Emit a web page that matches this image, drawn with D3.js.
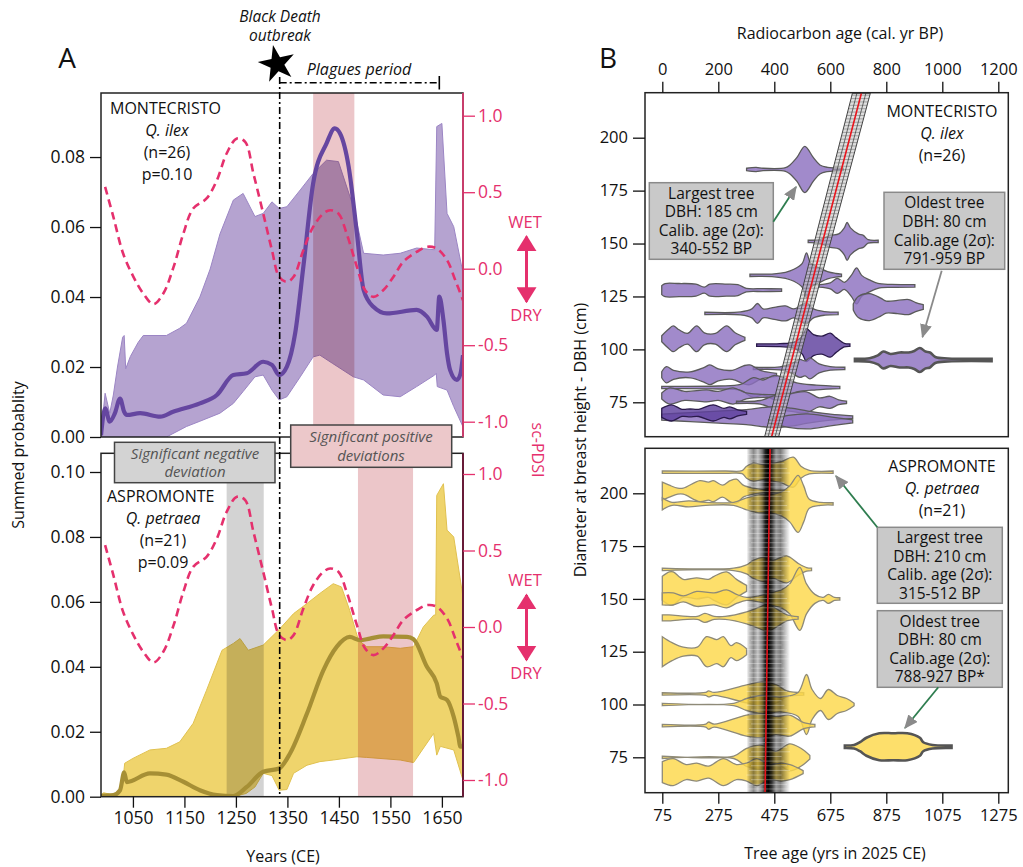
<!DOCTYPE html>
<html><head><meta charset="utf-8">
<script src="https://cdn.jsdelivr.net/npm/d3@7"></script>
<style>
body{margin:0;background:#fff;}
svg{font-family:"Open Sans",sans-serif;}
</style></head><body>
<svg id="fig" width="1023" height="867"></svg>
<script>
// ---- panel A data ----
const yearTicks = [1050,1150,1250,1350,1450,1550,1650];
const probTicksTop = [0,0.02,0.04,0.06,0.08];
const probTicksBottom = [0,0.02,0.04,0.06,0.08,0.10];
const pdsiTicks = [-1,-0.5,0,0.5,1];
const blackDeathYear = 1335;
const plaguesEndYear = 1645;
const montPositiveBand = [1400,1480];
const aspPositiveBand = [1487,1594];
const aspNegativeBand = [1232,1304];

const montUpper = [[988,0.001],[996,0.0125],[1005,0.0068],[1012,0.012],[1020,0.02],[1030,0.0285],[1033,0.029],[1036,0.0195],[1045,0.023],[1060,0.027],[1070,0.029],[1115,0.029],[1140,0.031],[1154,0.0325],[1180,0.040],[1200,0.048],[1219,0.058],[1245,0.0677],[1264,0.0696],[1287,0.063],[1303,0.0639],[1320,0.0672],[1334,0.0653],[1349,0.0658],[1375,0.0706],[1400,0.0753],[1426,0.0791],[1449,0.0787],[1478,0.0658],[1498,0.0525],[1536,0.052],[1569,0.0525],[1601,0.054],[1636,0.0535],[1640,0.0887],[1650,0.0896],[1660,0.0639],[1673,0.0601],[1691,0.0468]];
const montLower = [[988,0],[1115,0],[1154,0.003],[1180,0.0045],[1219,0.0068],[1245,0.0096],[1264,0.013],[1287,0.0172],[1303,0.0177],[1320,0.0134],[1334,0.0106],[1349,0.0115],[1375,0.0172],[1400,0.0229],[1413,0.0234],[1438,0.021],[1478,0.0172],[1498,0.0163],[1536,0.012],[1569,0.0115],[1601,0.0144],[1636,0.0177],[1639,0.0182],[1641,0.0144],[1660,0.0134],[1673,0.0087],[1691,0.0029]];
const montMean = [[988,0.0005],[996,0.0082],[1005,0.0044],[1015,0.0068],[1025,0.011],[1033,0.0072],[1038,0.0063],[1064,0.0068],[1103,0.0058],[1128,0.0072],[1180,0.0096],[1213,0.012],[1245,0.0177],[1271,0.0182],[1303,0.0215],[1320,0.0206],[1334,0.0177],[1349,0.0201],[1365,0.0296],[1381,0.0487],[1400,0.0725],[1426,0.0839],[1442,0.0882],[1452,0.0868],[1469,0.0772],[1485,0.0582],[1498,0.042],[1517,0.0372],[1543,0.0353],[1601,0.0363],[1621,0.0344],[1640,0.0306],[1645,0.0401],[1653,0.0334],[1660,0.0239],[1666,0.0191],[1679,0.0163],[1686,0.018],[1691,0.0234]];

const aspUpper = [[988,0.0005],[993,0.0012],[1005,0.0008],[1020,0.0005],[1030,0.004],[1034,0.0103],[1050,0.0118],[1083,0.0144],[1115,0.0149],[1141,0.0169],[1167,0.0226],[1193,0.0328],[1223,0.0451],[1245,0.0472],[1258,0.0487],[1274,0.0451],[1303,0.0467],[1334,0.0515],[1362,0.0564],[1388,0.0595],[1413,0.0626],[1439,0.0656],[1455,0.0646],[1471,0.0574],[1488,0.0482],[1504,0.0462],[1536,0.0462],[1569,0.0457],[1595,0.0462],[1614,0.0523],[1634,0.0559],[1638,0.056],[1640,0.0928],[1653,0.0964],[1660,0.0821],[1673,0.08],[1691,0.0615]];
const aspLower = [[988,0],[1245,0],[1270,0.001],[1287,0.003],[1303,0.0072],[1320,0.0065],[1334,0.002],[1349,0.0022],[1362,0.0072],[1388,0.0097],[1413,0.0108],[1439,0.0113],[1485,0.0123],[1504,0.0121],[1569,0.0113],[1595,0.0105],[1634,0.0195],[1640,0.0128],[1647,0.0155],[1673,0.0144],[1691,0.0051]];
const aspMean = [[988,0.0003],[1012,0.0005],[1025,0.002],[1033,0.0075],[1038,0.0045],[1083,0.0072],[1115,0.0068],[1148,0.0046],[1180,0.002],[1213,0.0005],[1245,0.0002],[1271,0.003],[1303,0.0077],[1334,0.0087],[1355,0.0133],[1388,0.0256],[1420,0.039],[1446,0.0462],[1471,0.0492],[1491,0.0482],[1510,0.0487],[1536,0.0494],[1582,0.0492],[1595,0.0485],[1621,0.040],[1640,0.0349],[1647,0.0308],[1660,0.0298],[1673,0.0246],[1682,0.0185],[1686,0.0154],[1691,0.0156]];

const pdsi = [[996,0.535],[1012,0.339],[1031,0.099],[1051,-0.053],[1070,-0.162],[1090,-0.232],[1109,-0.162],[1129,0.012],[1148,0.23],[1167,0.393],[1193,0.459],[1213,0.578],[1232,0.753],[1252,0.851],[1268,0.829],[1284,0.622],[1303,0.361],[1320,0.121],[1334,-0.053],[1349,-0.086],[1362,-0.053],[1381,0.121],[1400,0.273],[1420,0.361],[1433,0.382],[1449,0.361],[1465,0.23],[1485,0.012],[1501,-0.141],[1517,-0.184],[1536,-0.141],[1556,-0.053],[1575,0.045],[1601,0.11],[1621,0.143],[1640,0.132],[1660,0.056],[1676,-0.075],[1691,-0.206]];

// ---- panel B data ----
const rcTicks = [0,200,400,600,800,1000,1200];
const treeAgeTicks = [75,275,475,675,875,1075,1275];
const dbhTicks = [75,100,125,150,175,200];
// violins: dbh (cm), [age, relative density]
const montViolins = [
  {dbh:185, pts:[[301,0.04],[335,0.07],[360,0.04],[440,0.06],[456,0.15],[481,0.4],[509,0.77],[539,0.4],[563,0.15],[590,0.07],[620,0.05],[646,0.04]]},
  {dbh:151, pts:[[521,0.04],[560,0.06],[600,0.2],[630,0.25],[650,0.45],[660,0.63],[672,0.45],[700,0.25],[718,0.2],[735,0.06],[771,0.04]]},
  {dbh:135, pts:[[313,0.04],[400,0.05],[440,0.1],[470,0.2],[500,0.4],[515,0.75],[530,0.4],[560,0.25],[590,0.12],[620,0.06],[640,0.04]]},
  {dbh:130, pts:[[560,0.04],[600,0.1],[625,0.25],[650,0.12],[675,0.35],[694,0.6],[712,0.35],[740,0.2],[770,0.08],[820,0.05],[902,0.04]]},
  {dbh:128, pts:[[-2,0.15],[10,0.22],[60,0.22],[120,0.2],[150,0.1],[170,0.2],[230,0.2],[270,0.18],[300,0.06],[360,0.05],[426,0.04]]},
  {dbh:120, pts:[[682,0.1],[700,0.35],[740,0.45],[780,0.3],[800,0.2],[840,0.22],[880,0.25],[905,0.15],[932,0.08]]},
  {dbh:117, pts:[[152,0.04],[280,0.05],[320,0.15],[340,0.33],[360,0.15],[400,0.2],[440,0.25],[470,0.15],[500,0.3],[515,0.35],[540,0.15],[580,0.06],[628,0.04]]},
  {dbh:105, pts:[[-2,0.1],[20,0.3],[39,0.43],[60,0.3],[90,0.18],[123,0.43],[150,0.2],[190,0.18],[230,0.43],[260,0.2],[295,0.05]]},
  {dbh:102, dark:true, pts:[[337,0.04],[420,0.05],[470,0.1],[500,0.3],[515,0.55],[540,0.35],[570,0.3],[600,0.4],[620,0.25],[650,0.06],[670,0.04]]},
  {dbh:95, oldest:true, pts:[[688,0.04],[740,0.06],[770,0.15],[789,0.28],[815,0.2],[848,0.25],[880,0.25],[900,0.3],[920,0.4],[940,0.28],[956,0.25],[975,0.1],[1020,0.05],[1176,0.04]]},
  {dbh:91, pts:[[325,0.04],[420,0.05],[460,0.15],[491,0.3],[510,0.25],[527,0.35],[560,0.15],[600,0.06],[652,0.04]]},
  {dbh:88, pts:[[-2,0.1],[15,0.27],[40,0.15],[100,0.1],[150,0.25],[170,0.33],[200,0.2],[250,0.15],[290,0.3],[313,0.33],[350,0.15],[408,0.05]]},
  {dbh:82, pts:[[-2,0.04],[200,0.05],[280,0.1],[325,0.33],[360,0.25],[400,0.4],[440,0.3],[480,0.15],[550,0.08],[634,0.04]]},
  {dbh:78, pts:[[-2,0.1],[27,0.27],[80,0.15],[158,0.2],[200,0.15],[253,0.27],[300,0.1],[408,0.04]]},
  {dbh:75, pts:[[265,0.04],[350,0.06],[408,0.25],[460,0.3],[515,0.35],[560,0.15],[599,0.2],[630,0.08],[658,0.04]]},
  {dbh:68, pts:[[-2,0.1],[100,0.15],[200,0.2],[300,0.25],[400,0.35],[460,0.3],[520,0.2],[600,0.1],[680,0.04]]},
  {dbh:66, pts:[[380,0.05],[450,0.2],[520,0.25],[600,0.15],[680,0.05]]},
  {dbh:70, dark:true, pts:[[-2,0.15],[33,0.27],[70,0.12],[99,0.13],[130,0.12],[182,0.27],[220,0.15],[241,0.2],[270,0.1],[301,0.05]]}
];
const aspViolins = [
  {dbh:210, pts:[[75,0.04],[300,0.04],[360,0.05],[376,0.2],[400,0.3],[436,0.25],[470,0.3],[500,0.35],[543,0.5],[570,0.2],[600,0.06],[685,0.04]]},
  {dbh:201, pts:[[75,0.3],[100,0.2],[130,0.1],[150,0.1],[209,0.35],[240,0.3],[257,0.35],[290,0.2],[317,0.35],[340,0.4],[364,0.2],[400,0.1],[440,0.05],[520,0.04]]},
  {dbh:195, pts:[[75,0.2],[110,0.05],[170,0.1],[230,0.05],[330,0.05],[376,0.2],[420,0.3],[459,0.3],[500,0.4],[530,0.6],[560,0.95],[580,0.6],[600,0.15],[640,0.05],[685,0.04]]},
  {dbh:164, pts:[[75,0.04],[330,0.04],[376,0.15],[400,0.3],[436,0.4],[470,0.3],[519,0.45],[560,0.2],[590,0.06],[608,0.04]]},
  {dbh:155, pts:[[75,0.4],[100,0.55],[114,0.55],[150,0.3],[198,0.35],[240,0.3],[260,0.4],[305,0.55],[340,0.3],[376,0.1]]},
  {dbh:150, pts:[[75,0.2],[114,0.2],[150,0.1],[198,0.25],[260,0.2],[305,0.3],[340,0.15],[376,0.05],[420,0.1],[460,0.2],[500,0.3],[530,0.5],[566,1.05],[590,0.5],[620,0.15],[650,0.05],[668,0.15],[690,0.05],[709,0.04]]},
  {dbh:141, pts:[[75,0.1],[100,0.1],[200,0.05],[227,0.15],[260,0.05],[300,0.05],[376,0.2],[420,0.35],[450,0.45],[483,0.3],[520,0.1],[560,0.04]]},
  {dbh:125, pts:[[75,0.5],[110,0.3],[150,0.15],[200,0.15],[233,0.5],[270,0.4],[293,0.5],[320,0.2],[340,0.3],[376,0.1]]},
  {dbh:105, pts:[[75,0.04],[230,0.05],[240,0.1],[260,0.05],[376,0.3],[430,0.4],[483,0.3],[520,0.1],[580,0.04]]},
  {dbh:100, pts:[[75,0.04],[330,0.04],[376,0.2],[430,0.3],[500,0.25],[560,0.4],[590,1.0],[610,0.5],[640,0.2],[668,0.5],[700,0.3],[733,0.2],[760,0.04]]},
  {dbh:90, pts:[[75,0.04],[230,0.05],[240,0.12],[260,0.05],[376,0.35],[430,0.4],[480,0.3],[530,0.35],[580,0.1],[620,0.04]]},
  {dbh:80, oldest:true, pts:[[727,0.04],[760,0.06],[781,0.15],[804,0.3],[850,0.45],[900,0.45],[950,0.45],[995,0.3],[1007,0.15],[1040,0.06],[1108,0.04]]},
  {dbh:75, pts:[[75,0.04],[330,0.04],[376,0.3],[430,0.4],[480,0.2],[530,0.45],[570,0.3],[602,0.06]]},
  {dbh:68, pts:[[75,0.35],[114,0.45],[160,0.25],[198,0.3],[240,0.2],[293,0.45],[340,0.25],[376,0.3],[412,0.45],[460,0.25],[500,0.3],[531,0.25],[578,0.05]]}
];
// age-DBH fits: [dbh, age], and uncertainty range
const montFit = [[58.5,390],[221,711]];
const montFitErr = [25,32];
const aspFit = [[58.5,442],[221,460]];
const aspFitRange = [376,531];

// ---------------------------------------------------------
const svg = d3.select("#fig");
const defs = svg.append("defs");
const PINK = "#e5306d";

function clip(id,x0,y0,x1,y1){
  defs.append("clipPath").attr("id",id).append("rect")
    .attr("x",x0).attr("y",y0).attr("width",x1-x0).attr("height",y1-y0);
}
function marker(id,color,len,wid){
  defs.append("marker").attr("id",id).attr("viewBox","0 0 10 10")
    .attr("refX",9).attr("refY",5).attr("markerWidth",len).attr("markerHeight",wid)
    .attr("markerUnits","userSpaceOnUse").attr("orient","auto-start-reverse")
    .attr("preserveAspectRatio","none")
    .append("path").attr("d","M0,0L10,5L0,10z").attr("fill",color);
}
marker("headGray","#8a8a8a",14,12);
marker("headPink",PINK,16,20);

function txt(g,x,y,s,o){
  o = o||{};
  return g.append("text").attr("x",x).attr("y",y).text(s)
    .attr("font-size",o.size||16).attr("text-anchor",o.anchor||"middle")
    .attr("font-style",o.italic?"italic":null).attr("fill",o.color||"#111")
    .attr("transform",o.rot?`rotate(${o.rot},${x},${y})`:null);
}
// multi-line text block; items are strings or [string, italic]
function block(g,x,y,step,items,o){
  o = o||{};
  const t = g.append("text").attr("x",x).attr("y",y)
    .attr("font-size",o.size||16).attr("text-anchor",o.anchor||"middle").attr("fill",o.color||"#111")
    .attr("font-style",o.italic?"italic":null);
  items.forEach((it,i)=>{
    const s = Array.isArray(it)?it[0]:it;
    t.append("tspan").attr("x",x).attr("dy",i?step:0).text(s)
      .attr("font-style",Array.isArray(it)&&it[1]?"italic":null);
  });
  return t;
}
function styleAxis(g,color,size){
  g.selectAll("text").attr("font-size",size).attr("fill",color).attr("font-family","Open Sans");
  g.selectAll("line").attr("stroke",color).attr("stroke-width",1.3);
  g.select(".domain").remove();
}

// ================== PANEL A ==================
const x = d3.scaleLinear().domain([988,1691]).range([101,463]);
const A = [
  {clip:"cA1", top:93, bottom:437, y:d3.scaleLinear().domain([0,0.0983]).range([437,93]),
   p:d3.scaleLinear().domain([-1,1]).range([421.7,115.7]), ticks:probTicksTop,
   upper:montUpper, lower:montLower, mean:montMean, fill:"#b5a3d0", edge:"#9b85c4", line:"#6546a0",
   bands:[{r:montPositiveBand,c:"#ecc6c9"}], rightColor:"#d43a6e"},
  {clip:"cA2", top:453.3, bottom:796.7, y:d3.scaleLinear().domain([0,0.1]).range([796.7,472]),
   p:d3.scaleLinear().domain([-1,1]).range([780,474]), ticks:probTicksBottom,
   upper:aspUpper, lower:aspLower, mean:aspMean, fill:"#efd46c", edge:"#e0c150", line:"#a68f35",
   bands:[{r:aspNegativeBand,c:"#d3d3d3"},{r:aspPositiveBand,c:"#ecc6c9"}], rightColor:"#6a1535"}
];
A.forEach(o=>{
  clip(o.clip,101,o.top,463,o.bottom);
  const g = svg.append("g");
  const cg = g.append("g").attr("clip-path",`url(#${o.clip})`);
  const env = o.upper.concat(o.lower.slice().reverse());
  cg.append("path").datum(env)
    .attr("d",d3.line().x(d=>x(d[0])).y(d=>o.y(d[1])).curve(d3.curveLinearClosed))
    .attr("fill",o.fill).attr("stroke",o.edge).attr("stroke-width",1);
  o.bands.forEach(b=>{
    cg.append("rect").attr("x",x(b.r[0])).attr("width",x(b.r[1])-x(b.r[0]))
      .attr("y",o.top).attr("height",o.bottom-o.top).attr("fill",b.c)
      .style("mix-blend-mode","multiply");
  });
  cg.append("path").datum(o.mean)
    .attr("d",d3.line().x(d=>x(d[0])).y(d=>o.y(d[1])).curve(d3.curveMonotoneX))
    .attr("fill","none").attr("stroke",o.line).attr("stroke-width",4.2).attr("stroke-linejoin","round");
  cg.append("path").datum(pdsi)
    .attr("d",d3.line().x(d=>x(d[0])).y(d=>o.p(d[1])).curve(d3.curveCatmullRom))
    .attr("fill","none").attr("stroke",PINK).attr("stroke-width",2.6).attr("stroke-dasharray","8,5");
  // box
  g.append("rect").attr("x",101).attr("y",o.top).attr("width",362).attr("height",o.bottom-o.top)
    .attr("fill","none").attr("stroke","#222").attr("stroke-width",1.5);
  g.append("line").attr("x1",463).attr("x2",463).attr("y1",o.top).attr("y2",o.bottom)
    .attr("stroke",o.rightColor).attr("stroke-width",1.8);
  // axes
  const ay = g.append("g").attr("transform","translate(101,0)")
    .call(d3.axisLeft(o.y).tickValues(o.ticks).tickFormat(d3.format(".2f")).tickSize(11).tickPadding(5));
  styleAxis(ay,"#111",17.5);
  const ap = g.append("g").attr("transform","translate(463,0)")
    .call(d3.axisRight(o.p).tickValues(pdsiTicks).tickFormat(d=>d.toFixed(1)).tickSize(12).tickPadding(3));
  styleAxis(ap,PINK,17.5);
  // WET / DRY
  const mid = o.p(0);
  txt(g,525,mid-41,"WET",{size:16.5,color:PINK});
  txt(g,526,mid+52,"DRY",{size:16.5,color:PINK});
  g.append("line").attr("x1",526.5).attr("x2",526.5).attr("y1",mid-32).attr("y2",mid+33)
    .attr("stroke",PINK).attr("stroke-width",3)
    .attr("marker-start","url(#headPink)").attr("marker-end","url(#headPink)");
});
const ax = svg.append("g").attr("transform","translate(0,796.7)")
  .call(d3.axisBottom(x).tickValues(yearTicks).tickFormat(d3.format("d")).tickSize(11).tickPadding(4));
styleAxis(ax,"#111",17.5);

// labels panel A
txt(svg,67,68,"A",{size:28});
txt(svg,110,114,"MONTECRISTO",{size:16,anchor:"start"});
block(svg,167,136,22,[["Q. ilex",true],"(n=26)","p=0.10"],{size:16});
txt(svg,107,502,"ASPROMONTE",{size:16,anchor:"start"});
block(svg,163,524,22,[["Q. petraea",true],"(n=21)","p=0.09"],{size:16});
txt(svg,283,862,"Years (CE)",{size:16});
txt(svg,24,455,"Summed probablity",{size:16,rot:-90});
txt(svg,532,450,"sc-PDSI",{size:16,rot:90,color:PINK});

// black death + plagues period
const bdx = x(blackDeathYear), pex = x(plaguesEndYear);
svg.append("line").attr("x1",bdx).attr("x2",bdx).attr("y1",77).attr("y2",796.7)
  .attr("stroke","#000").attr("stroke-width",1.6).attr("stroke-dasharray","7,3,2,3");
svg.append("line").attr("x1",bdx).attr("x2",pex).attr("y1",82.7).attr("y2",82.7)
  .attr("stroke","#000").attr("stroke-width",1.6).attr("stroke-dasharray","7,3,2,3");
svg.append("line").attr("x1",pex).attr("x2",pex).attr("y1",76).attr("y2",89.5)
  .attr("stroke","#000").attr("stroke-width",1.6);
svg.append("path").attr("d",d3.symbol(d3.symbolStar).size(420)())
  .attr("transform","translate(277,64) rotate(-12)").attr("fill","#000");
block(svg,280,22,19,["Black Death","outbreak"],{size:15.5,italic:true});
txt(svg,359,75,"Plagues period",{size:16,italic:true});

// significance labels
svg.append("rect").attr("x",114.5).attr("y",442.3).attr("width",160.5).attr("height",40.4)
  .attr("fill","#d3d3d3").attr("stroke","#444").attr("stroke-width",1.5);
block(svg,195,458.5,18.5,["Significant negative","deviation"],{size:15,italic:true,color:"#555"});
svg.append("rect").attr("x",290.7).attr("y",425).attr("width",161).attr("height",42.3)
  .attr("fill","#ecc8ca").attr("stroke","#444").attr("stroke-width",1.5);
block(svg,371,442,18.5,["Significant positive","deviations"],{size:15,italic:true,color:"#555"});

// ================== PANEL B ==================
const rc = d3.scaleLinear().domain([0,1200]).range([662.3,998.3]);
const ta = d3.scaleLinear().domain([75,1275]).range([662.3,998.3]);
const w = d3.scaleLinear().domain([0,1]).range([0,30]);
const dbhTop = d3.scaleLinear().domain([75,200]).range([402.3,137.7]);
const dbhBot = d3.scaleLinear().domain([75,200]).range([757.3,493.3]);
clip("cB1",645,92.7,1008.3,436.7);
clip("cB2",645,448.3,1008.3,792.7);

function violins(g,list,xs,ys,fill,darkFill,stroke){
  list.forEach(v=>{
    const yc = ys(v.dbh);
    g.append("path").datum(v.pts)
      .attr("d",d3.area().x(d=>xs(d[0])).y0(d=>yc+w(d[1])).y1(d=>yc-w(d[1])).curve(d3.curveCatmullRom))
      .attr("fill",v.dark?darkFill:fill).attr("fill-opacity",0.82)
      .attr("stroke",v.oldest?"#555":(v.dark?"#2a1a4a":stroke))
      .attr("stroke-width",v.oldest?2.6:1.3);
  });
}

// top B
const gB1 = svg.append("g");
const cB1 = gB1.append("g").attr("clip-path","url(#cB1)");
violins(cB1,montViolins,rc,dbhTop,"#8c70bf","#5e3f9e","#5a5a5a");
{
  const band = montFit.map((d,i)=>({y:dbhTop(d[0]),lo:rc(d[1]-montFitErr[i]),hi:rc(d[1]+montFitErr[i]),c:rc(d[1])}));
  cB1.append("path").attr("d",`M${band[0].lo},${band[0].y}L${band[1].lo},${band[1].y}L${band[1].hi},${band[1].y}L${band[0].hi},${band[0].y}Z`)
    .attr("fill","#c8c8c8").attr("fill-opacity",0.6).attr("stroke","#444").attr("stroke-width",1);
  const fitAt = (dbh,off)=>{ const t=(dbh-montFit[0][0])/(montFit[1][0]-montFit[0][0]);
    const a=montFit[0][1]+t*(montFit[1][1]-montFit[0][1]); const e=montFitErr[0]+t*(montFitErr[1]-montFitErr[0]);
    return rc(a+off*e); };
  d3.range(montFit[0][0],montFit[1][0],1.6).forEach(d=>{
    cB1.append("line").attr("x1",fitAt(d,-1)).attr("x2",fitAt(d,1)).attr("y1",dbhTop(d)).attr("y2",dbhTop(d))
      .attr("stroke","#333").attr("stroke-width",0.5).attr("stroke-opacity",0.7);
  });
  [-0.5,0.5].forEach(k=>{
    cB1.append("line").attr("x1",fitAt(montFit[0][0],k)).attr("x2",fitAt(montFit[1][0],k))
      .attr("y1",band[0].y).attr("y2",band[1].y).attr("stroke","#333").attr("stroke-width",0.7);
  });
  cB1.append("line").attr("x1",band[0].c).attr("x2",band[1].c).attr("y1",band[0].y).attr("y2",band[1].y)
    .attr("stroke","#e8141c").attr("stroke-width",1.6);
}
gB1.append("rect").attr("x",645).attr("y",92.7).attr("width",363.3).attr("height",344)
  .attr("fill","none").attr("stroke","#222").attr("stroke-width",1.5);
styleAxis(gB1.append("g").attr("transform","translate(0,92.7)")
  .call(d3.axisTop(rc).tickValues(rcTicks).tickFormat(d3.format("d")).tickSize(11).tickPadding(7)),"#111",16.5);
styleAxis(gB1.append("g").attr("transform","translate(645,0)")
  .call(d3.axisLeft(dbhTop).tickValues(dbhTicks).tickSize(12).tickPadding(5)),"#111",16.5);

// bottom B
const gB2 = svg.append("g");
const cB2 = gB2.append("g").attr("clip-path","url(#cB2)");
violins(cB2,aspViolins,ta,dbhBot,"#fdd84a","#e8b820","#8e8a78");
{
  const grad = defs.append("linearGradient").attr("id","ageBand").attr("x1","0").attr("x2","1").attr("y1","0").attr("y2","0");
  [[0,"#ffffff"],[0.06,"#c8c8c8"],[0.16,"#8a8a8a"],[0.26,"#c4c4c4"],[0.36,"#7a7a7a"],[0.43,"#202020"],[0.5,"#000"],
   [0.58,"#303030"],[0.68,"#9a9a9a"],[0.78,"#7c7c7c"],[0.9,"#c8c8c8"],[1,"#ffffff"]]
    .forEach(s=>grad.append("stop").attr("offset",s[0]).attr("stop-color",s[1]));
  cB2.append("rect").attr("x",ta(aspFitRange[0])).attr("width",ta(aspFitRange[1])-ta(aspFitRange[0]))
    .attr("y",448.3).attr("height",344.4).attr("fill","url(#ageBand)").style("mix-blend-mode","multiply");
  d3.range(60,220,2.2).forEach((d,i)=>{
    cB2.append("line").attr("x1",ta(aspFitRange[0]+ (i%3)*8)).attr("x2",ta(aspFitRange[1]-(i%4)*10))
      .attr("y1",dbhBot(d)).attr("y2",dbhBot(d)).attr("stroke","#fff").attr("stroke-width",0.6).attr("stroke-opacity",0.55);
  });
  cB2.append("line").attr("x1",ta(aspFit[0][1])).attr("x2",ta(aspFit[1][1]))
    .attr("y1",dbhBot(aspFit[0][0])).attr("y2",dbhBot(aspFit[1][0])).attr("stroke","#e8141c").attr("stroke-width",1.6);
}
gB2.append("rect").attr("x",645).attr("y",448.3).attr("width",363.3).attr("height",344.4)
  .attr("fill","none").attr("stroke","#222").attr("stroke-width",1.5);
styleAxis(gB2.append("g").attr("transform","translate(0,792.7)")
  .call(d3.axisBottom(ta).tickValues(treeAgeTicks).tickFormat(d3.format("d")).tickSize(11).tickPadding(6)),"#111",16.5);
styleAxis(gB2.append("g").attr("transform","translate(645,0)")
  .call(d3.axisLeft(dbhBot).tickValues(dbhTicks).tickSize(12).tickPadding(5)),"#111",16.5);

// labels panel B
txt(svg,608,68,"B",{size:28});
txt(svg,840,39,"Radiocarbon age (cal. yr BP)",{size:16});
txt(svg,835,859,"Tree age (yrs in 2025 CE)",{size:16});
txt(svg,586,440,"Diameter at breast height - DBH (cm)",{size:16,rot:-90});
block(svg,942,117,22,["MONTECRISTO",["Q. ilex",true],"(n=26)"],{size:16});
block(svg,942,472,22,["ASPROMONTE",["Q. petraea",true],"(n=21)"],{size:16});

function infoBox(x0,y0,x1,y1,lines){
  svg.append("rect").attr("x",x0).attr("y",y0).attr("width",x1-x0).attr("height",y1-y0)
    .attr("fill","#c9c9c9").attr("stroke","#8a8a8a").attr("stroke-width",1.5);
  const step = (y1-y0-2)/lines.length;
  block(svg,(x0+x1)/2,y0+1+step*0.5+5.5,step,lines,{size:15.5});
}
function arrow(x1,y1,x2,y2,color){
  svg.append("line").attr("x1",x1).attr("y1",y1).attr("x2",x2).attr("y2",y2)
    .attr("stroke",color).attr("stroke-width",1.8).attr("marker-end","url(#headGray)");
}
infoBox(649.3,182.7,773.3,259.3,["Largest tree","DBH: 185 cm","Calib. age (2σ):","340-552 BP"]);
arrow(773.3,221.7,796,187,"#2e7d4f");
infoBox(884,192.3,1004.7,269.3,["Oldest tree","DBH: 80 cm","Calib.age (2σ):","791-959 BP"]);
arrow(941.7,270.7,922.5,337,"#8a8a8a");
infoBox(877.3,527.3,1002.3,603.3,["Largest tree","DBH: 210 cm","Calib. age (2σ):","315-512 BP"]);
arrow(877.3,527.3,836,476,"#2e7d4f");
infoBox(877.3,610.7,1002.3,687.3,["Oldest tree","DBH: 80 cm","Calib.age (2σ):","788-927 BP*"]);
arrow(938.3,687.3,905,728,"#2e7d4f");
</script></body></html>
